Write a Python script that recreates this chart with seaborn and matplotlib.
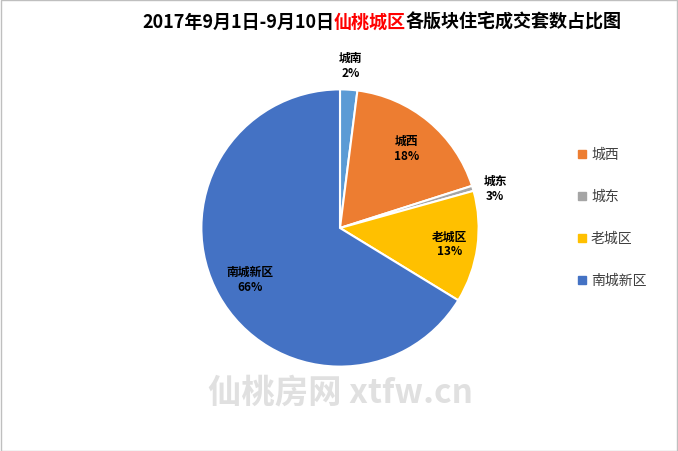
import matplotlib
matplotlib.use("Agg")
import matplotlib.pyplot as plt
import seaborn as sns
import numpy as np
from matplotlib.offsetbox import TextArea, HPacker, AnchoredOffsetbox
from matplotlib.patches import Rectangle

sns.set_style("white")
plt.rcParams['font.family'] = ['Noto Sans CJK SC', 'DejaVu Sans']

categories = ["城南", "城西", "城东", "老城区", "南城新区"]
values = [2, 18, 0.6, 13, 66]
pct_labels = ["2%", "18%", "3%", "13%", "66%"]
legend_cats = ["城西", "城东", "老城区", "南城新区"]
colors = ["#5B9BD5", "#ED7D31", "#A5A5A5", "#FFC000", "#4472C4"]

fig = plt.figure(figsize=(6.78, 4.52), dpi=100)
ax = fig.add_axes([(340-140)/678, 1-(229+140)/452, 280/678, 280/452])
wedges, _ = ax.pie(values, colors=colors, startangle=90, counterclock=False,
                   wedgeprops=dict(edgecolor="white", linewidth=1.5), radius=1)
ax.set_xlim(-1.01, 1.01); ax.set_ylim(-1.01, 1.01)
ax.set_aspect("equal")

rfac = [1.18, 0.75, 1.18, 0.8, 0.7]
for w, c, p, r in zip(wedges, categories, pct_labels, rfac):
    th = np.deg2rad((w.theta1 + w.theta2) / 2)
    x, y = r*np.cos(th), r*np.sin(th)
    if c == "城东":
        x, y = 1.12, 0.29
    if c == "南城新区":
        x, y = -0.65, -0.37
    ax.text(x, y, f"{c}\n{p}", ha="center", va="center", fontsize=8.5,
            fontweight="bold", linespacing=1.2, color="black")

for i, c in enumerate(legend_cats):
    y = 155 + i*42
    col = colors[categories.index(c)]
    fig.patches.append(Rectangle((578/678, 1-(y+4)/452), 8/678, 8/452,
                                 transform=fig.transFigure, color=col))
    fig.text(591/678, 1-y/452, c, fontsize=10, va="center", color="#404040")

parts = [TextArea("2017年9月1日-9月10日", textprops=dict(fontsize=13, fontweight="bold", color="black")),
         TextArea("仙桃城区", textprops=dict(fontsize=13, fontweight="bold", color="#FF0000")),
         TextArea("各版块住宅成交套数占比图", textprops=dict(fontsize=13, fontweight="bold", color="black"))]
box = HPacker(children=parts, pad=0, sep=0, align="baseline")
ab = AnchoredOffsetbox(loc="center", child=box, frameon=False,
                       bbox_to_anchor=(382/678, 1-22/452), bbox_transform=fig.transFigure)
fig.add_artist(ab)

fig.text(340/678, 1-393/452, "仙桃房网 xtfw.cn", fontsize=24, fontweight="bold",
         color="#E0E0E0", ha="center", va="center")

fig.patches.append(Rectangle((0.001, 0.001), 0.997, 0.997, transform=fig.transFigure,
                             fill=False, edgecolor="#BFBFBF", linewidth=1))
fig.savefig("out.png", dpi=100)
